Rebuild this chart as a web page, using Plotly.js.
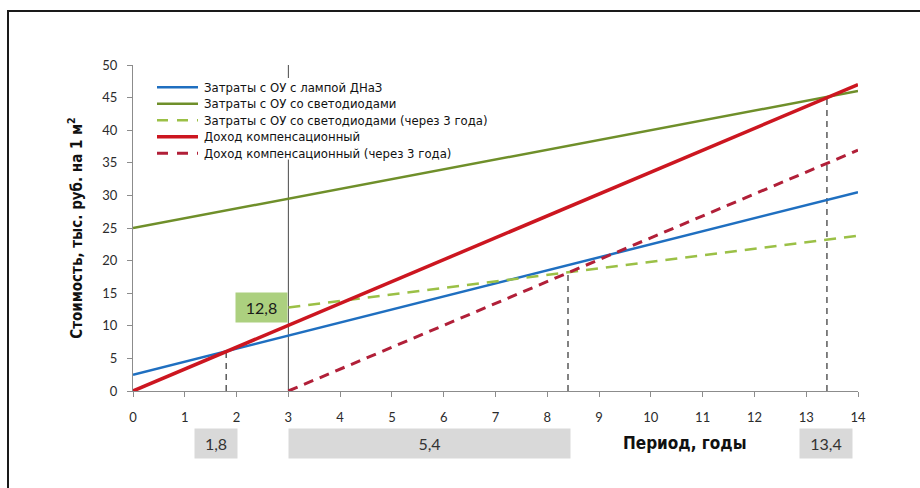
<!DOCTYPE html>
<html>
<head>
<meta charset="utf-8">
<script src="https://cdn.plot.ly/plotly-3.0.1.min.js"></script>
<style>
  html, body { margin: 0; padding: 0; background: #ffffff; }
  #chart { width: 920px; height: 488px; }
</style>
</head>
<body>
<div id="chart"></div>
<script>
// Years on the horizontal axis
const years = [0, 1, 2, 3, 4, 5, 6, 7, 8, 9, 10, 11, 12, 13, 14];
const yearsFrom3 = [3, 4, 5, 6, 7, 8, 9, 10, 11, 12, 13, 14];

// Costs and income, thousand rubles per 1 m²
const costHps = [2.5, 4.5, 6.5, 8.5, 10.5, 12.5, 14.5, 16.5, 18.5, 20.5, 22.5, 24.5, 26.5, 28.5, 30.5];
const costLed = [25, 26.5, 28, 29.5, 31, 32.5, 34, 35.5, 37, 38.5, 40, 41.5, 43, 44.5, 46];
const costLedLater = [12.8, 13.8, 14.8, 15.8, 16.8, 17.8, 18.8, 19.8, 20.8, 21.8, 22.8, 23.8];
const income = [0, 3.36, 6.71, 10.07, 13.43, 16.79, 20.14, 23.5, 26.86, 30.21, 33.57, 36.93, 40.29, 43.64, 47];
const incomeLater = [0, 3.36, 6.71, 10.07, 13.43, 16.79, 20.14, 23.5, 26.86, 30.21, 33.57, 36.93];

const seriesNames = [
  'Затраты с ОУ с лампой ДНаЗ',
  'Затраты с ОУ со светодиодами',
  'Затраты с ОУ со светодиодами (через 3 года)',
  'Доход компенсационный',
  'Доход компенсационный (через 3 года)'
];

// Payback points: year and the level where the lines cross
const paybackYears = [1.8, 8.4, 13.4];
const paybackLevels = [6.0, 18.2, 45.0];

// Period labels under the axis: text, centre year, box width in px
const periodLabels = ['1,8', '5,4', '13,4'];
const periodCentres = [1.6, 5.72, 13.38];
const periodWidths = [42, 281, 52];

// Start year of the delayed scenario and its starting cost
const delayYear = 3;
const delayCostText = '12,8';
const delayCost = 12.8;

const narrow = '"Liberation Sans Narrow", "Arial Narrow", "DejaVu Sans Condensed", sans-serif';
const tickFont = 'Lato, "Open Sans", sans-serif';

const lineStyles = [
  { color: '#1f6fc0', width: 2.5 },
  { color: '#6f8f2a', width: 2.5 },
  { color: '#9bc046', width: 2.5, dash: '12px,8px' },
  { color: '#cc1620', width: 3.5 },
  { color: '#b11f38', width: 3, dash: '10px,7px' }
];
const seriesX = [years, years, yearsFrom3, years, yearsFrom3];
const seriesY = [costHps, costLed, costLedLater, income, incomeLater];

const traces = seriesY.map((ys, i) => ({
  type: 'scatter', mode: 'lines', hoverinfo: 'skip', cliponaxis: false,
  x: seriesX[i], y: ys, name: seriesNames[i], line: lineStyles[i], showlegend: false
}));

// paper-coordinate helpers for the 133..858 x 65..391 plot box
const px = v => (v - 133) / 725;
const py = v => (391 - v) / 326;

const shapes = [];
// Outer frame
shapes.push({
  type: 'path', xref: 'paper', yref: 'paper',
  path: `M ${px(8)} ${py(560)} L ${px(8)} ${py(11)} L ${px(960)} ${py(11)}`,
  line: { color: '#1a1a1a', width: 2 }
});
// Start of the delayed scenario
shapes.push({
  type: 'line', xref: 'x', yref: 'y', x0: delayYear, x1: delayYear, y0: 0, y1: 50.3,
  line: { color: '#4a4a4a', width: 1 }, layer: 'below'
});
// Payback markers
paybackYears.forEach((yr, i) => {
  shapes.push({
    type: 'line', xref: 'x', yref: 'y', x0: yr, x1: yr, y0: 0, y1: paybackLevels[i],
    line: { color: '#5a5a5a', width: 1.5, dash: '6px,5px' }, layer: 'below'
  });
});

const annotations = [];

// Legend: white panel, line samples and names
const legendTop = 79, legendRow = 16.5, legendLeft = 157;
shapes.push({
  type: 'rect', xref: 'paper', yref: 'paper', layer: 'above',
  x0: px(153), x1: px(487), y0: py(legendTop - 1), y1: py(legendTop + legendRow * 5 - 2),
  fillcolor: '#ffffff', line: { width: 0 }
});
seriesNames.forEach((name, i) => {
  const yc = py(legendTop + legendRow * (i + 0.5));
  shapes.push({
    type: 'line', xref: 'paper', yref: 'paper', layer: 'above',
    x0: px(legendLeft), x1: px(legendLeft + 41), y0: yc, y1: yc,
    line: Object.assign({}, lineStyles[i], { dash: lineStyles[i].dash ? '11px,9px' : 'solid' })
  });
  annotations.push({
    x: px(legendLeft + 45), xref: 'paper', y: yc, yref: 'paper',
    text: name, showarrow: false, xanchor: 'left', yanchor: 'middle',
    font: { family: narrow, size: 13, color: '#111111' }
  });
});

periodLabels.forEach((txt, i) => {
  annotations.push({
    x: periodCentres[i], xref: 'x', y: py(443), yref: 'paper',
    text: txt, showarrow: false, xanchor: 'center', yanchor: 'middle',
    width: periodWidths[i], height: 29, bgcolor: '#d9d9d9', borderpad: 0,
    font: { family: tickFont, size: 16, color: '#333333' }
  });
});
annotations.push({
  x: delayYear, xref: 'x', y: delayCost, yref: 'y',
  text: delayCostText, showarrow: false, xanchor: 'right', yanchor: 'middle',
  width: 51, height: 29, bgcolor: '#acd07f', borderpad: 0,
  font: { family: tickFont, size: 16, color: '#1a1a1a' }
});
annotations.push({
  x: 10.65, xref: 'x', y: py(443), yref: 'paper',
  text: '<b>Период, годы</b>', showarrow: false, xanchor: 'center', yanchor: 'middle',
  font: { family: narrow, size: 17, color: '#111111' }
});

const layout = {
  width: 920, height: 488,
  margin: { l: 133, r: 62, t: 65, b: 97 },
  paper_bgcolor: '#ffffff', plot_bgcolor: '#ffffff',
  showlegend: false,
  xaxis: {
    range: [0, 14], dtick: 1, tick0: 0, showgrid: false, zeroline: false,
    showline: true, linecolor: '#8c8c8c', linewidth: 1,
    ticks: 'outside', ticklen: 5, tickcolor: '#8c8c8c',
    ticklabelstandoff: 9,
    tickfont: { family: tickFont, size: 13, color: '#2b2b2b' }
  },
  yaxis: {
    range: [0, 50], dtick: 5, tick0: 0, showgrid: false, zeroline: false,
    showline: true, linecolor: '#8c8c8c', linewidth: 1,
    ticks: 'outside', ticklen: 5, tickcolor: '#8c8c8c',
    ticklabelstandoff: 7,
    tickfont: { family: tickFont, size: 13, color: '#2b2b2b' },
    title: {
      text: '<b>Стоимость, тыс. руб. на 1 м<sup>2</sup></b>',
      font: { family: narrow, size: 15, color: '#111111' },
      standoff: 16
    }
  },
  shapes: shapes,
  annotations: annotations
};

Plotly.newPlot('chart', traces, layout, { displayModeBar: false, staticPlot: true });
</script>
</body>
</html>
